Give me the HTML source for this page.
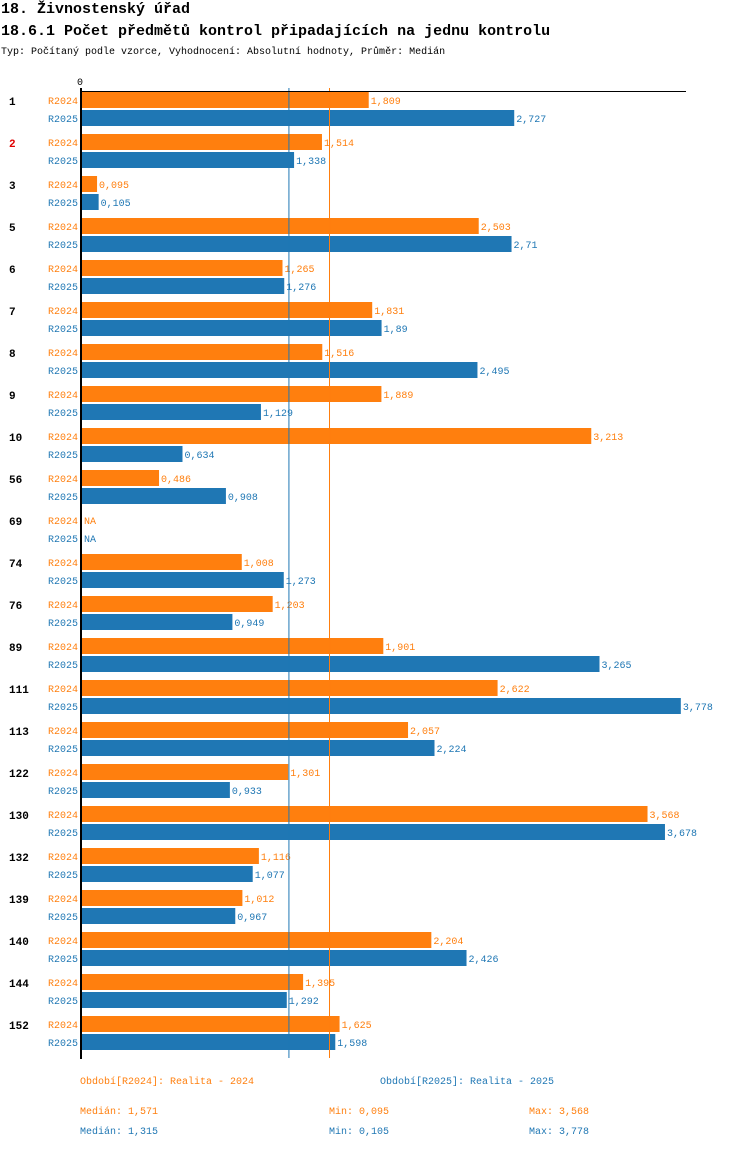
<!DOCTYPE html>
<html><head><meta charset="utf-8"><style>
body{margin:0;background:#fff;width:750px;height:1148px;overflow:hidden;font-family:"Liberation Mono",monospace;}
svg text{font-family:"Liberation Mono",monospace;}
</style></head><body>
<svg width="750" height="1148" xmlns="http://www.w3.org/2000/svg">
<text x="1" y="13" font-size="15" font-weight="bold">18. Živnostenský úřad</text>
<text x="1" y="35" font-size="15" font-weight="bold">18.6.1 Počet předmětů kontrol připadajících na jednu kontrolu</text>
<text x="1" y="54" font-size="10">Typ: Počítaný podle vzorce, Vyhodnocení: Absolutní hodnoty, Průměr: Medián</text>
<g id="plot"></g>
<g font-size="10">
<text x="80" y="1084" fill="#ff7f0e">Období[R2024]: Realita - 2024</text>
<text x="380" y="1084" fill="#1f77b4">Období[R2025]: Realita - 2025</text>
<text x="80" y="1114" fill="#ff7f0e">Medián: 1,571</text>
<text x="329" y="1114" fill="#ff7f0e">Min: 0,095</text>
<text x="529" y="1114" fill="#ff7f0e">Max: 3,568</text>
<text x="80" y="1134" fill="#1f77b4">Medián: 1,315</text>
<text x="329" y="1134" fill="#1f77b4">Min: 0,105</text>
<text x="529" y="1134" fill="#1f77b4">Max: 3,778</text>
</g>
</svg>
<script>
const categories=["1","2","3","5","6","7","8","9","10","56","69","74","76","89","111","113","122","130","132","139","140","144","152"];
const r2024=[1.809,1.514,0.095,2.503,1.265,1.831,1.516,1.889,3.213,0.486,null,1.008,1.203,1.901,2.622,2.057,1.301,3.568,1.116,1.012,2.204,1.395,1.625];
const r2025=[2.727,1.338,0.105,2.71,1.276,1.89,2.495,1.129,0.634,0.908,null,1.273,0.949,3.265,3.778,2.224,0.933,3.678,1.077,0.967,2.426,1.292,1.598];
const medians=[1.571,1.315];
const NS="http://www.w3.org/2000/svg";
const g=document.getElementById('plot');
const x0=82,scale=158.5;
const xs=v=>x0+v*scale;
const gy=i=>92+i*42;
function mk(t,a){const e=document.createElementNS(NS,t);for(const k in a)e.setAttribute(k,a[k]);g.appendChild(e);return e;}
const fmt=v=>String(v).replace('.',',');
const cols=["#ff7f0e","#1f77b4"];
const labs=["R2024","R2025"];
categories.forEach((c,i)=>{
  const t=mk('text',{x:9,y:gy(i)+13,'font-size':11,'font-weight':'bold',fill:c==="2"?"#e00000":"#000"});
  t.textContent=c;
  
  
  [r2024,r2025].forEach((s,j)=>{
    const y=gy(i)+j*18;
    const l=mk('text',{x:78,y:y+12,'font-size':10,'text-anchor':'end',fill:cols[j]});
    l.textContent=labs[j];
    
    
    const v=s[i];
    let end=x0;
    if(v!==null){
      const r=mk('rect',{x:x0,y:y,width:xs(v)-x0,height:16,fill:cols[j]});
      
      
      end=xs(v);
    }
    const vt=mk('text',{x:end+2,y:y+12,'font-size':10,fill:cols[j]});
    vt.textContent=v===null?"NA":fmt(v);
    
    
  });
});
medians.forEach((m,j)=>{
  const l=mk('line',{x1:xs(m)-1.5,x2:xs(m)-1.5,y1:88,y2:1058,stroke:cols[j],'stroke-width':1});
  
  
});
const ax=mk('line',{x1:80,x2:686,y1:91.5,y2:91.5,stroke:'#000','stroke-width':1});


const ay=mk('line',{x1:81,x2:81,y1:88,y2:1059,stroke:'#000','stroke-width':2});


const z=mk('text',{x:77,y:85,'font-size':10});
z.textContent="0";


</script>
</body></html>
